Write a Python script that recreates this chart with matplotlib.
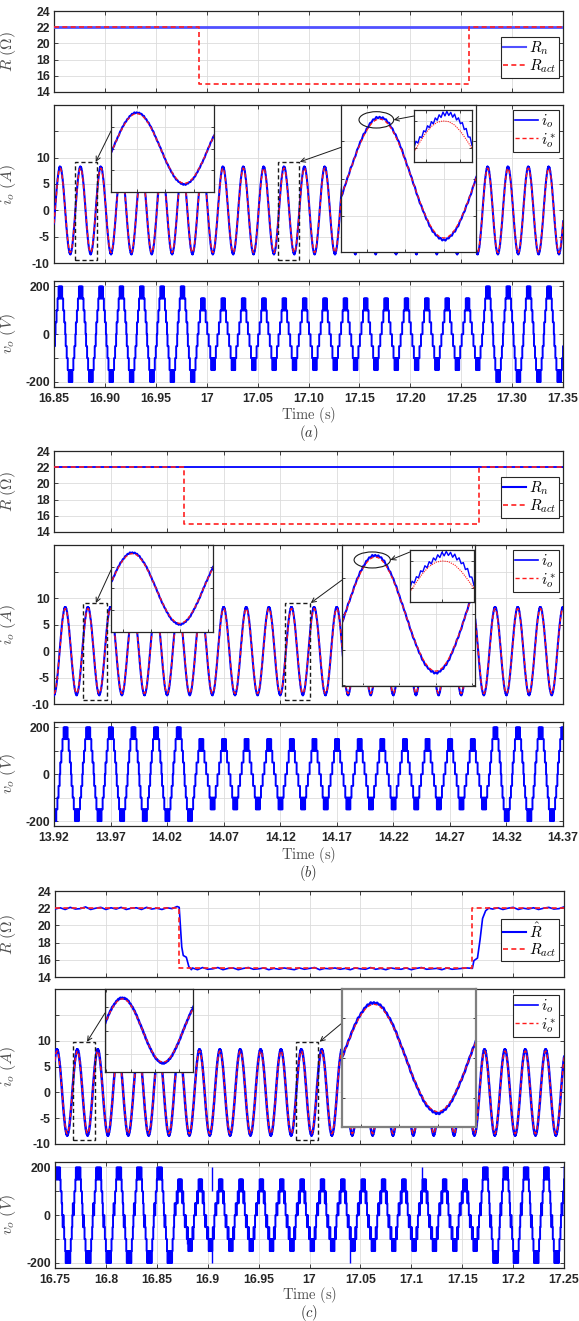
import numpy as np
import matplotlib
matplotlib.use('Agg')
import matplotlib.pyplot as plt
from matplotlib.patches import Rectangle, Ellipse
from matplotlib.lines import Line2D
from matplotlib.ticker import FixedLocator, FixedFormatter, MaxNLocator, NullFormatter

W, H = 579, 1321
plt.rcParams['font.family'] = ['Liberation Sans', 'DejaVu Sans']
plt.rcParams['mathtext.fontset'] = 'cm'

# ---------------- data ----------------
# one current cycle: quarter wave (per unit), 4.5 deg steps
quarter = [0, .0785, .1564, .2334, .3090, .3827, .4540, .5225, .5878, .6494, .7071,
           .7604, .8090, .8526, .8910, .9239, .9511, .9724, .9877, .9969, 1.0]
ripple = [0.12, -0.08, 0.15, -0.12, 0.06, -0.14, 0.10, -0.05]
i_ref_pk = 8.0
i_meas_pk = 8.25

# inverter output: positive half cycle in 0.5 ms slots, counted in 50 V steps
v_step = 50
v_half_22 = [0, 1, 1, 2, 2, 3, 3, 4, 3, 4, 3, 4, 3, 4, 3, 3, 2, 2, 1, 1]
v_half_15 = [0, 0, 1, 1, 1, 2, 2, 3, 2, 3, 2, 3, 2, 3, 2, 2, 1, 1, 1, 0]
v_half_22c = [0, 1, 0, 1, 2, 2, 3, 4, 3, 4, 3, 4, 3, 4, 3, 4, 3, 2, 2, 1]
v_half_15c = [0, 1, 0, 1, 1, 2, 1, 2, 3, 2, 3, 2, 3, 2, 3, 2, 1, 2, 1, 0]

# peak voltage of every cycle
vpk_a = [200] * 8 + [150] * 14 + [200] * 5
vpk_b = [200] * 7 + [150] * 13 + [200] * 4
vpk_c = [200] * 7 + [150] * 15 + [200] * 5

# start of the first (rising zero crossing) cycle drawn
t0_a, t0_b, t0_c = 16.831, 13.905, 16.727

# load resistance
rn = 22
ract_a_t = [16.85, 16.992, 17.258, 17.35]
ract_b_t = [13.92, 14.035, 14.296, 14.37]
ract_c_t = [16.75, 16.872, 17.160, 17.25]
ract_v = [22, 15, 22, 22]

# estimated resistance (c)
rh1 = [21.9, 22.05, 21.85, 22.1, 21.9, 21.95, 22.15, 21.85, 22.0, 22.1, 21.85, 22.05, 21.9,
       22.1, 21.85, 22.0, 22.05, 21.85, 22.1, 21.9, 22.0, 21.85, 22.05, 21.95, 22.2]
rh_drop_t = [16.872, 16.8745, 16.876, 16.879, 16.8815, 16.884]
rh_drop = [22.1, 17.5, 16.5, 16.3, 15.2, 14.85]
rh2 = [15.05, 14.85, 15.1, 14.9, 14.95, 15.1, 14.85, 15.0, 15.05, 14.85, 15.0, 15.1, 14.9,
       14.95, 15.05, 14.85, 15.0, 14.9, 15.05, 14.95, 14.85, 15.05, 14.9, 15.0, 15.1, 14.85,
       15.0, 14.95, 15.05, 14.9, 15.0, 14.85, 15.05, 14.95, 14.9, 15.1, 14.9, 15.0, 14.85,
       15.05, 14.95, 14.9, 15.05, 14.85, 15.0, 15.1, 14.9, 14.95, 15.0, 14.85, 15.05, 14.9,
       14.95, 15.0, 15.05]
rh_rise_t = [17.160, 17.1615, 17.165, 17.1675, 17.170, 17.173, 17.176]
rh_rise = [15.0, 15.9, 16.2, 18.3, 20.8, 21.7, 22.0]
rh3 = [21.9, 22.05, 21.85, 22.0, 22.1, 21.85, 22.0, 21.9, 22.05, 21.85, 22.0, 22.1, 21.9,
       21.95, 22.15]

# spikes in v_o (c)
spike_t = [16.880, 16.904, 16.9045, 17.040, 17.111]
spike_lo = [-120, 100, -200, -200, 100]
spike_hi = [-50, 200, -100, -100, 200]

# magnified peak (inset in inset), +-2.5 ms around the peak
zoom_ref = [5.72, 6.45, 7.1, 7.6, 7.9, 8.0, 7.95, 7.7, 7.25, 6.65, 5.99]
zoom_meas = [6.05, 6.52, 6.38, 6.85, 6.77, 7.28, 7.2, 7.65, 7.5, 7.95, 7.78, 8.22, 8.05, 8.45,
             8.25, 8.65, 8.37, 8.7, 8.4, 8.63, 8.27, 8.5, 8.07, 8.23, 7.8, 7.88, 7.37, 7.45,
             6.83, 6.82, 6.2]

ticks_a = [16.85, 16.90, 16.95, 17.00, 17.05, 17.10, 17.15, 17.20, 17.25, 17.30, 17.35]
labels_a = ['16.85', '16.90', '16.95', '17', '17.05', '17.10', '17.15', '17.20', '17.25', '17.30', '17.35']
ticks_b = [13.92, 13.97, 14.02, 14.07, 14.12, 14.17, 14.22, 14.27, 14.32, 14.37]
labels_b = ['13.92', '13.97', '14.02', '14.07', '14.12', '14.17', '14.22', '14.27', '14.32', '14.37']
ticks_c = [16.75, 16.80, 16.85, 16.90, 16.95, 17.00, 17.05, 17.10, 17.15, 17.20, 17.25]
labels_c = ['16.75', '16.8', '16.85', '16.9', '16.95', '17', '17.05', '17.1', '17.15', '17.2', '17.25']

# ---------------- helpers ----------------
def box(x0, y0, x1, y1):
    return [x0 / W, 1 - y1 / H, (x1 - x0) / W, (y1 - y0) / H]


def fxy(x, y):
    return (x / W, 1 - y / H)


def current(t0, n_cyc):
    q = np.array(quarter)
    half = np.concatenate([q, q[-2:0:-1]])
    cyc = np.concatenate([half, -half])
    t = t0 + np.arange(n_cyc * len(cyc)) * 0.02 / len(cyc)
    ref = np.tile(cyc * i_ref_pk, n_cyc)
    meas = np.tile(cyc * i_meas_pk + np.tile(ripple, len(cyc) // len(ripple)), n_cyc)
    return t, ref, meas


def voltage(t0, peaks, h22, h15):
    vals = []
    for pk in peaks:
        h = np.array(h22 if pk == 200 else h15) * v_step
        vals.append(np.concatenate([h, -h]))
    v = np.concatenate(vals)
    t = t0 + np.arange(len(v)) * 0.0005
    return t, v


DARK = '#262626'


def style(ax, lw=0.9, col=DARK):
    ax.tick_params(direction='in', top=True, right=True, length=3, width=0.6,
                   labelsize=8.8, colors=DARK, pad=3)
    ax.grid(True, color='#dcdcdc', lw=0.6)
    ax.set_axisbelow(True)
    for s in ax.spines.values():
        s.set_linewidth(lw)
        s.set_color(col)


def bold(ax):
    for lab in ax.get_xticklabels() + ax.get_yticklabels():
        lab.set_fontweight('bold')


def inset(fig, px, col=DARK, lw=0.9):
    a = fig.add_axes(box(*px))
    style(a, lw, col)
    a.xaxis.set_major_locator(MaxNLocator(4))
    a.yaxis.set_major_locator(MaxNLocator(4))
    a.xaxis.set_major_formatter(NullFormatter())
    a.yaxis.set_major_formatter(NullFormatter())
    a.tick_params(length=2)
    return a


def leg(ax, handles, labels, anchor):
    L = ax.legend(handles, labels, loc='upper right', bbox_to_anchor=fxy(*anchor),
                  bbox_transform=fig.transFigure, fontsize=11, fancybox=False,
                  edgecolor=DARK, framealpha=1, borderpad=0.15, handlelength=1.5,
                  handletextpad=0.2, labelspacing=0.05, borderaxespad=0)
    L.get_frame().set_linewidth(0.8)


panels = [
    dict(name='a', off=0, left=54, right=563, xlim=(16.85, 17.35), ticks=ticks_a, labels=labels_a,
         t0=t0_a, vpk=vpk_a, h22=v_half_22, h15=v_half_15, ract_t=ract_a_t,
         rcol='#5050ff', rlw=2.0,
         rect_y=(-9.4, 9.2), rect1=(16.8706, 16.8922), rect2=(17.070, 17.091),
         in1=(111, 105, 214, 192), in1y=(-10, 10), in2=(341, 105, 476, 252), in2y=(-9.9, 9.9),
         in3=(414, 110, 472, 162), pk=17.0755, ell=(17.0755, 7.9, 0.0054, 2.2),
         ar1=((111, 131), (16.891, 9.2)), ar2=((342, 147), (17.0915, 9.2)),
         ar3=(414, 116), in2col=DARK, in2lw=0.9, ilw=1.5),
    dict(name='b', off=440, left=54, right=563, xlim=(13.92, 14.37), ticks=ticks_b, labels=labels_b,
         t0=t0_b, vpk=vpk_b, h22=v_half_22, h15=v_half_15, ract_t=ract_b_t,
         rcol='#0000ff', rlw=1.3,
         rect_y=(-9.2, 9.06), rect1=(13.9455, 13.967), rect2=(14.1245, 14.1465),
         in1=(111, 545, 213, 632), in1y=(-10, 10), in2=(342, 545, 475, 686), in2y=(-10.1, 9.7),
         in3=(410, 550, 474, 602), pk=14.130, ell=(14.1295, 7.6, 0.006, 2.25),
         ar1=((111, 570), (13.957, 9.06)), ar2=((342, 580), (14.147, 9.06)),
         ar3=(410, 552), in2col=DARK, in2lw=0.9, ilw=1.5),
    dict(name='c', off=880, left=55, right=564, xlim=(16.75, 17.25), ticks=ticks_c, labels=labels_c,
         t0=t0_c, vpk=vpk_c, h22=v_half_22c, h15=v_half_15c, ract_t=ract_c_t,
         rcol='#0000ff', rlw=1.2,
         rect_y=(-9.2, 9.8), rect1=(16.7677, 16.7894), rect2=(16.987, 17.008),
         in1=(105, 989, 193, 1072), in1y=(-10.5, 10.5), in2=(342, 989, 476, 1127), in2y=(-10.3, 10.3),
         in3=None, ar1=((105, 1013), (16.7815, 9.8)), ar2=((342, 1023), (17.010, 9.8)),
         in2col='#7f7f7f', in2lw=1.6, ilw=1.8),
]

fig = plt.figure(figsize=(W / 100, H / 100), dpi=100)

for p in panels:
    o = p['off']
    L, R = p['left'], p['right']
    if p['name'] == 'c':
        r_box, i_box, v_box = (L, 891, R, 977), (L, 989, R, 1144), (L, 1162, R, 1268)
    elif p['name'] == 'b':
        r_box, i_box, v_box = (L, 451, R, 532), (L, 545, R, 704), (L, 722, R, 826)
    else:
        r_box, i_box, v_box = (L, 11, R, 92), (L, 105, R, 263), (L, 281, R, 387)

    n_cyc = len(p['vpk'])
    t_i, i_ref, i_meas = current(p['t0'], n_cyc)
    t_v, v_o = voltage(p['t0'], p['vpk'], p['h22'], p['h15'])

    # --- resistance ---
    axr = fig.add_axes(box(*r_box))
    style(axr)
    if p['name'] == 'c':
        rh_t = np.concatenate([16.750 + np.arange(len(rh1)) * 0.005, rh_drop_t,
                               16.885 + np.arange(len(rh2)) * 0.005, rh_rise_t,
                               17.180 + np.arange(len(rh3)) * 0.005])
        rh_v = np.concatenate([rh1, rh_drop, rh2, rh_rise, rh3])
        axr.plot(rh_t, rh_v, color=p['rcol'], lw=p['rlw'], zorder=3)
        rlab = r'$\hat{R}$'
    else:
        axr.plot(p['xlim'], [rn, rn], color=p['rcol'], lw=p['rlw'], zorder=3)
        rlab = r'$R_n$'
    axr.plot(p['ract_t'], ract_v, color='#ff2020', ls=(0, (3, 2)), lw=1.2,
             drawstyle='steps-post', zorder=4)
    axr.set_xlim(p['xlim'])
    axr.set_ylim(14, 24)
    axr.set_yticks([14, 16, 18, 20, 22, 24])
    axr.xaxis.set_major_locator(FixedLocator(p['ticks']))
    axr.xaxis.set_major_formatter(NullFormatter())
    axr.set_ylabel(r'$R\ (\Omega)$', fontsize=11.5, color='#4d4d4d')
    axr.yaxis.set_label_coords(-(L - 18) / (R - L), 0.5)
    bold(axr)
    leg(axr, [Line2D([], [], color=p['rcol'], lw=1.5),
              Line2D([], [], color='#ff2020', ls=(0, (3, 2)), lw=1.2)],
        [rlab, r'$R_{act}$'], (559, o + (37 if o != 880 else 39)))

    # --- current ---
    axi = fig.add_axes(box(*i_box))
    style(axi)
    axi.plot(t_i, i_meas, color='#0000ff', lw=p['ilw'], zorder=3)
    axi.plot(t_i, i_ref, color='#ff1a1a', ls=(0, (3, 2)), lw=1.0, zorder=4)
    axi.set_xlim(p['xlim'])
    axi.set_ylim(-10, 20)
    axi.yaxis.set_major_locator(FixedLocator([-10, -5, 0, 5, 10, 15, 20]))
    axi.yaxis.set_major_formatter(FixedFormatter(['-10', '-5', '0', '5', '10', '', '']))
    axi.xaxis.set_major_locator(FixedLocator(p['ticks']))
    axi.xaxis.set_major_formatter(NullFormatter())
    axi.set_ylabel(r'$i_o\ (A)$', fontsize=11.5, color='#4d4d4d')
    axi.yaxis.set_label_coords(-(L - 18) / (R - L), 0.5)
    bold(axi)
    y0, y1 = p['rect_y']
    for (a0, a1) in (p['rect1'], p['rect2']):
        axi.add_patch(Rectangle((a0, y0), a1 - a0, y1 - y0, fill=False, ec='#1a1a1a',
                                ls=(0, (3, 2)), lw=1.0, zorder=5))
    for (start, tgt) in (p['ar1'], p['ar2']):
        axi.annotate('', xy=tgt, xycoords='data', xytext=fxy(*start),
                     textcoords='figure fraction', annotation_clip=False,
                     arrowprops=dict(arrowstyle='->', lw=0.7, color='#1a1a1a',
                                     shrinkA=0, shrinkB=0,
                                     mutation_scale=8), zorder=6)
    leg(axi, [Line2D([], [], color='#0000ff', lw=1.2),
              Line2D([], [], color='#ff1a1a', ls=(0, (3, 2)), lw=1.0)],
        [r'$i_o$', r'$i_o^*$'], (559, o + (110 if o != 880 else 115)))

    # insets
    a1 = inset(fig, p['in1'])
    a1.plot(t_i, i_meas, color='#0000ff', lw=p['ilw'])
    a1.plot(t_i, i_ref, color='#ff1a1a', ls=(0, (3, 2)), lw=0.9)
    a1.set_xlim(p['rect1'])
    a1.set_ylim(p['in1y'])

    a2 = inset(fig, p['in2'], p['in2col'], p['in2lw'])
    a2.plot(t_i, i_meas, color='#0000ff', lw=p['ilw'])
    a2.plot(t_i, i_ref, color='#ff1a1a', ls=(0, (3, 2)), lw=0.9)
    a2.set_xlim(p['rect2'])
    a2.set_ylim(p['in2y'])

    if p['in3'] is not None:
        ex, ey, ew, eh = p['ell']
        a2.add_patch(Ellipse((ex, ey), ew, eh, fill=False, ec='#1a1a1a', lw=0.8, zorder=5))
        a2.annotate('', xy=(ex + ew / 2, ey), xycoords='data', xytext=fxy(*p['ar3']),
                    textcoords='figure fraction', annotation_clip=False,
                    arrowprops=dict(arrowstyle='->', lw=0.7, color='#1a1a1a',
                                    shrinkA=0, shrinkB=0, mutation_scale=8), zorder=6)
        a3 = inset(fig, p['in3'])
        pk = p['pk']
        a3.plot(np.linspace(pk - 0.0025, pk + 0.0025, len(zoom_meas)), zoom_meas,
                color='#0000ff', lw=1.0)
        a3.plot(np.linspace(pk - 0.0025, pk + 0.0025, len(zoom_ref)), zoom_ref,
                color='#ff1a1a', ls=(0, (1, 1)), lw=0.8)
        a3.set_xlim(pk - 0.0025, pk + 0.0025)
        a3.set_ylim(5.0, 8.8)
        a3.xaxis.set_major_locator(MaxNLocator(2))
        a3.yaxis.set_major_locator(MaxNLocator(2))

    # --- voltage ---
    axv = fig.add_axes(box(*v_box))
    style(axv)
    axv.plot(t_v, v_o, color='#0000ff', lw=1.4, drawstyle='steps-post')
    if p['name'] == 'c':
        axv.vlines(spike_t, spike_lo, spike_hi, color='#0000ff', lw=1.0)
    axv.set_xlim(p['xlim'])
    axv.set_ylim(-221, 223)
    axv.yaxis.set_major_locator(FixedLocator([-200, -100, 0, 100, 200]))
    axv.yaxis.set_major_formatter(FixedFormatter(['-200', '', '0', '', '200']))
    axv.xaxis.set_major_locator(FixedLocator(p['ticks']))
    axv.xaxis.set_major_formatter(FixedFormatter(p['labels']))
    axv.tick_params(axis='x', pad=4)
    axv.set_ylabel(r'$v_o\ (V)$', fontsize=11.5, color='#4d4d4d')
    axv.yaxis.set_label_coords(-(L - 18) / (R - L), 0.5)
    bold(axv)

    cx = (L + R) / 2
    fig.text(*fxy(cx, o + 415), r'$\mathrm{Time\ (s)}$', fontsize=10.5, color='#4d4d4d',
             ha='center', va='center')
    fig.text(*fxy(cx, o + 433), r'$(%s)$' % p['name'], fontsize=10.5, color='#333333',
             ha='center', va='center')

fig.savefig('out.png', dpi=100)
